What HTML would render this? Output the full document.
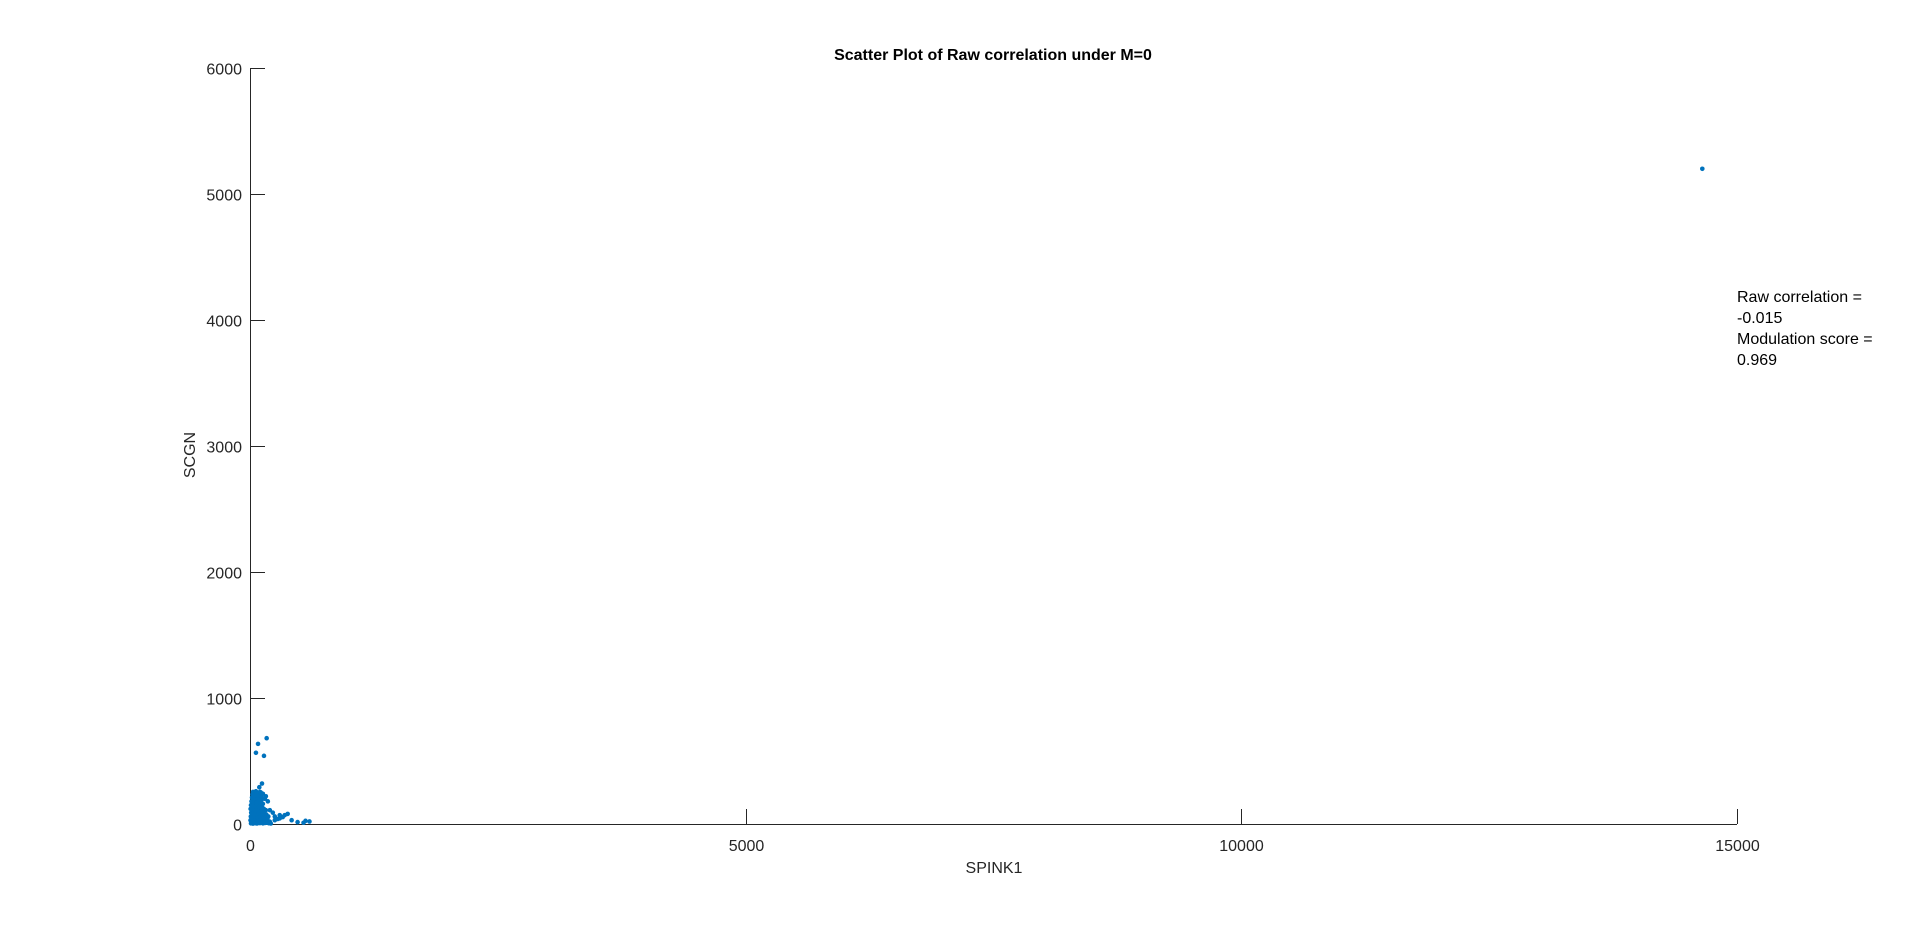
<!DOCTYPE html>
<html><head><meta charset="utf-8"><style>
html,body{margin:0;padding:0;background:#fff;}
svg text{font-family:"Liberation Sans",Arial,sans-serif;fill:#262626;}
</style></head><body>
<svg id="chart" width="1920" height="926" viewBox="0 0 1920 926" xmlns="http://www.w3.org/2000/svg">
<rect width="1920" height="926" fill="#fff"/>
<text x="993" y="60" text-anchor="middle" font-size="16" font-weight="bold" style="fill:#000">Scatter Plot of Raw correlation under M=0</text>
<g id="axes"></g>
<g id="points"></g>
<text x="994" y="873" text-anchor="middle" font-size="16">SPINK1</text>
<text transform="translate(195,455) rotate(-90)" text-anchor="middle" font-size="16">SCGN</text>
<g font-size="16">
<text x="1737" y="302" style="fill:#000">Raw correlation =</text>
<text x="1737" y="323" style="fill:#000">-0.015</text>
<text x="1737" y="344" style="fill:#000">Modulation score =</text>
<text x="1737" y="365" style="fill:#000">0.969</text>
</g>
</svg>
<script>
const xTicks = [0, 5000, 10000, 15000];
const yTicks = [0, 1000, 2000, 3000, 4000, 5000, 6000];
const xVals = [14650,168,81,60,141,121,94,
 10,20,30,45,55,70,85,100,115,130,150,170,190,210,
 5,15,25,40,60,75,90,110,125,140,160,180,200,
 8,18,35,50,65,80,95,105,120,135,155,175,
 12,28,42,58,72,88,102,118,132,148,165,185,
 6,22,38,52,68,84,98,112,128,145,
 10,30,48,62,78,92,108,125,140,160,
 15,35,55,70,90,110,130,
 20,40,60,80,100,120,
 25,50,75,95,115,
 30,55,85,
 200,230,250,280,300,330,350,380,420,480,540,560,600,250,300,
 180,160,130,100,70,40,20,110,150,60];
const yVals = [5200,681,636,565,541,321,292,
 5,8,3,10,6,4,9,7,12,5,8,10,6,4,
 30,25,35,28,40,32,22,36,30,26,34,20,18,
 60,55,65,58,70,50,62,56,48,60,45,40,
 90,85,95,80,100,88,92,78,84,70,75,60,
 120,115,125,110,130,105,118,100,95,90,
 150,145,160,140,155,135,148,130,120,110,
 180,175,190,170,185,165,160,
 210,205,220,200,215,195,
 235,230,240,225,220,
 255,250,245,
 110,90,60,40,70,55,70,80,30,15,10,25,20,30,45,
 180,220,240,255,230,200,180,250,200,260];
const X0=250, X1=1737, Y0=824, Y1=68;
const xScale = v => X0 + (v - 0) / 15000 * (X1 - X0);
const yScale = v => Y0 - (v - 0) / 6000 * (Y0 - Y1);
const NS='http://www.w3.org/2000/svg';
const axes=document.getElementById('axes');
function line(x1,y1,x2,y2,name){
  const l=document.createElementNS(NS,'line');
  l.setAttribute('x1',x1);l.setAttribute('y1',y1);l.setAttribute('x2',x2);l.setAttribute('y2',y2);
  l.setAttribute('stroke','#262626');l.setAttribute('stroke-width','1');
  
  
  axes.appendChild(l);
}
line(X0,Y0+0.5,X1,Y0+0.5,'x-axis-line');
line(X0+0.5,Y0,X0+0.5,Y1,'y-axis-line');
xTicks.forEach(t=>{
  const x=Math.round(xScale(t))+0.5;
  line(x,Y0,x,Y0-15,'x-tick');
  const tx=document.createElementNS(NS,'text');
  tx.setAttribute('x',x);tx.setAttribute('y',Y0+27);tx.setAttribute('text-anchor','middle');tx.setAttribute('font-size','16');
  
  
  tx.textContent=t;axes.appendChild(tx);
});
yTicks.forEach(t=>{
  const y=Math.round(yScale(t))+0.5;
  line(X0,y,X0+15,y,'y-tick');
  const tx=document.createElementNS(NS,'text');
  tx.setAttribute('x',X0-8);tx.setAttribute('y',y+6);tx.setAttribute('text-anchor','end');tx.setAttribute('font-size','16');
  
  
  tx.textContent=t;axes.appendChild(tx);
});
const pts=document.getElementById('points');
xVals.forEach((xv,i)=>{
  const c=document.createElementNS(NS,'circle');
  c.setAttribute('cx',xScale(xv));c.setAttribute('cy',yScale(yVals[i]));c.setAttribute('r','2.3');c.setAttribute('fill','#0072BD');
  
  
  pts.appendChild(c);
});
</script>
</body></html>
